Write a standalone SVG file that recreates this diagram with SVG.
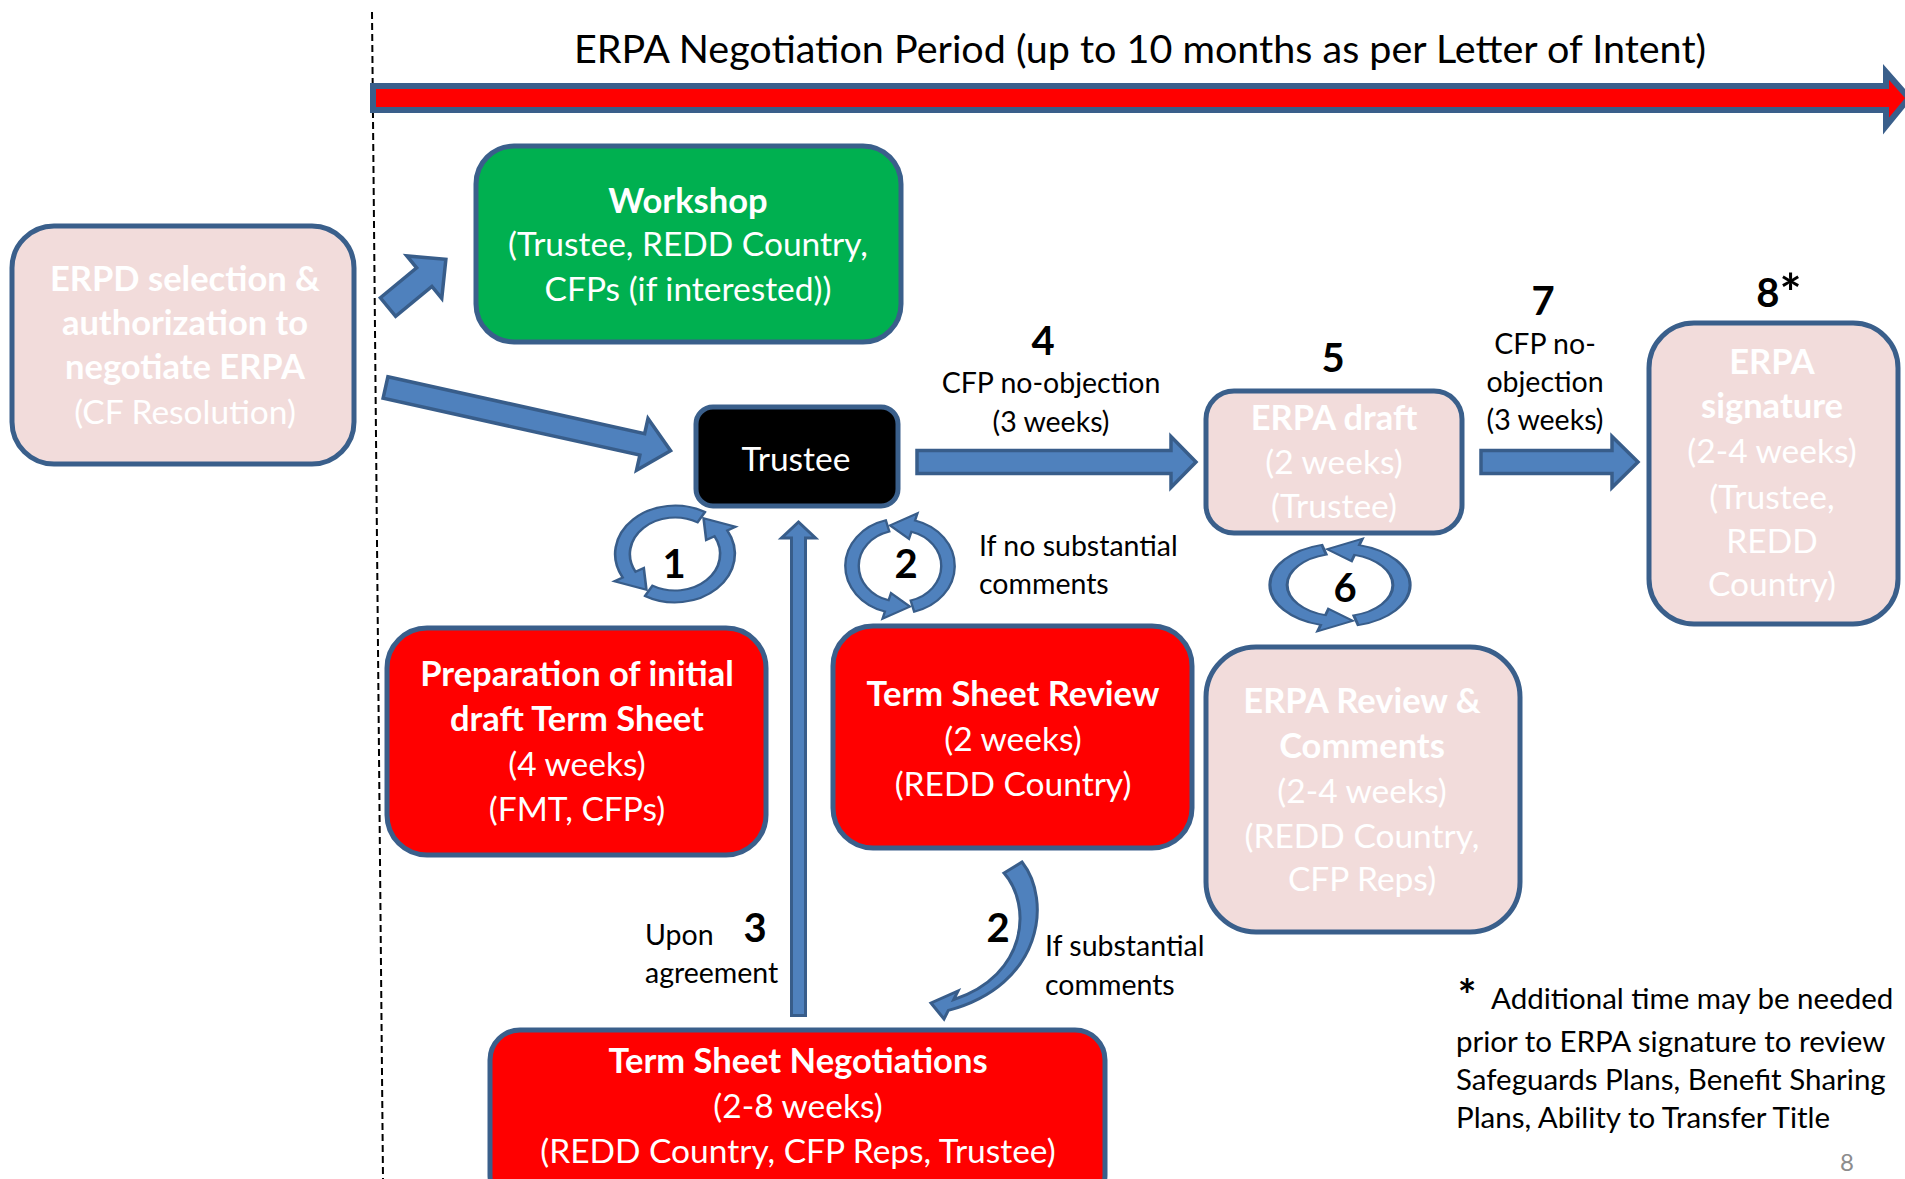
<svg xmlns="http://www.w3.org/2000/svg" xmlns:xlink="http://www.w3.org/1999/xlink" width="1905" height="1179" viewBox="0 0 1905 1179">
<style>
text{font-family:Lato,"Open Sans","Liberation Sans",sans-serif}
.box{stroke:#3a5f8b;stroke-width:5}
.pink{fill:#f2dcdb}
.red{fill:#ff0000}
.green{fill:#00b050}
.blk{fill:#000000}
.bt{fill:#ffffff;font-size:33.5px;text-anchor:middle}
.b{font-weight:bold;font-size:34.5px}
.lbl{fill:#000000;font-size:28.5px}
.fn{fill:#000000;font-size:29.5px}
.mid{text-anchor:middle}
.num{fill:#000000;font-size:40px;font-weight:bold;text-anchor:middle}
.ba{fill:#4f81bd;stroke:#385d8a;stroke-width:3.5;stroke-linejoin:miter}
.cy{fill:#4f81bd;stroke:#385d8a;stroke-width:2.5}
</style>
<defs>
<path id="arcA" d="M -14.75 -55.06 A 57 57 0 0 0 -15.71 54.79 L -18.19 63.44 L 10.40 48.91 L -9.37 32.68 L -11.85 41.33 A 43 43 0 0 1 -11.13 -41.53 Z"/>
<g id="cyc"><use xlink:href="#arcA" href="#arcA"/><use xlink:href="#arcA" href="#arcA" transform="rotate(180)"/></g>
</defs>
<rect width="1905" height="1179" fill="#ffffff"/>

<g id="timeline">
<line x1="372" y1="12" x2="383" y2="1179" stroke="#000" stroke-width="2" stroke-dasharray="7 4"/>
<text x="1140" y="63" class="mid" style="font-size:39.5px;fill:#000">ERPA Negotiation Period (up to 10 months as per Letter of Intent)</text>
<polygon points="373,86 1886,86 1886,72 1909,98 1886,126 1886,110 373,110" fill="#ff0000" stroke="#3a5f8b" stroke-width="6"/>
</g>

<g id="connectors">
<polygon class="ba" transform="translate(388,307) rotate(-39.5)" points="0,-12 47,-12 47,-27.5 75,0 47,27.5 47,12 0,12"/>
<polygon class="ba" transform="translate(385.5,387.5) rotate(12.5)" points="0,-11 263,-11 263,-26.5 292,0 263,26.5 263,11 0,11"/>
<polygon class="ba" points="917,450.5 1171,450.5 1171,436.5 1196,462 1171,487.5 1171,473.5 917,473.5"/>
<polygon class="ba" points="1481,450.5 1612,450.5 1612,436.5 1638,462 1612,487.5 1612,473.5 1481,473.5"/>
<polygon class="ba" style="stroke-width:3" points="791.5,1015.5 791.5,538 781.5,538 798.5,522 815.5,538 805.5,538 805.5,1015.5"/>
<path class="ba" style="stroke-width:3" d="M 1004 873 C 1032 905 1028 975 953.7 999.6 L 958 991 L 931 1003 L 944 1019 L 948.3 1010.4 C 1043 985 1052 900 1022 862 Z"/>
<use class="cy" xlink:href="#cyc" href="#cyc" transform="translate(675,554) scale(1.05,0.85) rotate(45)"/>
<use class="cy" xlink:href="#cyc" href="#cyc" transform="translate(900,566) scale(0.96,0.83)"/>
<use class="cy" xlink:href="#cyc" href="#cyc" transform="translate(1340,585) scale(1.23,0.73)"/>
</g>

<g id="labels">
<text x="674" y="578" class="num">1</text>
<text x="906" y="578" class="num">2</text>
<text x="979" y="556" class="lbl">If no substantial</text>
<text x="979" y="594" class="lbl">comments</text>
<text x="755" y="942" class="num">3</text>
<text x="645" y="945" class="lbl">Upon</text>
<text x="645" y="983" class="lbl">agreement</text>
<text x="998" y="942" class="num">2</text>
<text x="1045" y="956" class="lbl">If substantial</text>
<text x="1045" y="995" class="lbl">comments</text>
<text x="1043" y="355" class="num">4</text>
<text x="1051" y="393" class="lbl mid">CFP no-objection</text>
<text x="1051" y="432" class="lbl mid">(3 weeks)</text>
<text x="1333" y="372" class="num">5</text>
<text x="1345" y="602" class="num">6</text>
<text x="1543" y="315" class="num">7</text>
<text x="1545" y="354" class="lbl mid">CFP no-</text>
<text x="1545" y="392" class="lbl mid">objection</text>
<text x="1545" y="430" class="lbl mid">(3 weeks)</text>
<text x="1779" y="307" class="num">8<tspan dy="5" style="font-size:52px">*</tspan></text>
</g>

<g id="n-erpd">
<rect class="box pink" x="12" y="226" width="342" height="238" rx="42"/>
<text class="bt b" x="185" y="291">ERPD selection &amp;</text>
<text class="bt b" x="185" y="335">authorization to</text>
<text class="bt b" x="185" y="379">negotiate ERPA</text>
<text class="bt" x="185" y="424">(CF Resolution)</text>
</g>

<g id="n-workshop">
<rect class="box green" x="476" y="146" width="425" height="196" rx="38"/>
<text class="bt b" x="688" y="213">Workshop</text>
<text class="bt" x="688" y="256">(Trustee, REDD Country,</text>
<text class="bt" x="688" y="301">CFPs (if interested))</text>
</g>

<g id="n-trustee">
<rect class="box blk" x="696" y="407" width="202" height="99" rx="17"/>
<text class="bt" x="796" y="471">Trustee</text>
</g>

<g id="n-prep">
<rect class="box red" x="387" y="628" width="379" height="227" rx="40"/>
<text class="bt b" x="577" y="686">Preparation of initial</text>
<text class="bt b" x="577" y="731">draft Term Sheet</text>
<text class="bt" x="577" y="776">(4 weeks)</text>
<text class="bt" x="577" y="821">(FMT, CFPs)</text>
</g>

<g id="n-review">
<rect class="box red" x="833" y="626" width="359" height="222" rx="40"/>
<text class="bt b" x="1013" y="706">Term Sheet Review</text>
<text class="bt" x="1013" y="751">(2 weeks)</text>
<text class="bt" x="1013" y="796">(REDD Country)</text>
</g>

<g id="n-negotiations">
<rect class="box red" x="490" y="1030" width="615" height="175" rx="30"/>
<text class="bt b" x="798" y="1073">Term Sheet Negotiations</text>
<text class="bt" x="798" y="1118">(2-8 weeks)</text>
<text class="bt" x="798" y="1163">(REDD Country, CFP Reps, Trustee)</text>
</g>

<g id="n-draft">
<rect class="box pink" x="1206" y="391" width="256" height="142" rx="28"/>
<text class="bt b" x="1334" y="430">ERPA draft</text>
<text class="bt" x="1334" y="474">(2 weeks)</text>
<text class="bt" x="1334" y="518">(Trustee)</text>
</g>

<g id="n-erpareview">
<rect class="box pink" x="1206" y="647" width="314" height="285" rx="50"/>
<text class="bt b" x="1362" y="713">ERPA Review &amp;</text>
<text class="bt b" x="1362" y="758">Comments</text>
<text class="bt" x="1362" y="803">(2-4 weeks)</text>
<text class="bt" x="1362" y="848">(REDD Country,</text>
<text class="bt" x="1362" y="891">CFP Reps)</text>
</g>

<g id="n-signature">
<rect class="box pink" x="1649" y="323" width="249" height="301" rx="45"/>
<text class="bt b" x="1772" y="374">ERPA</text>
<text class="bt b" x="1772" y="418">signature</text>
<text class="bt" x="1772" y="463">(2-4 weeks)</text>
<text class="bt" x="1772" y="509">(Trustee,</text>
<text class="bt" x="1772" y="553">REDD</text>
<text class="bt" x="1772" y="596">Country)</text>
</g>

<g id="footnote">
<text x="1467" y="1011" class="mid" style="font-size:44px;font-weight:bold;fill:#000">*</text>
<text x="1491" y="1009" class="fn">Additional time may be needed</text>
<text x="1456" y="1052" class="fn">prior to ERPA signature to review</text>
<text x="1456" y="1090" class="fn">Safeguards Plans, Benefit Sharing</text>
<text x="1456" y="1128" class="fn">Plans, Ability to Transfer Title</text>
<text x="1847" y="1171" class="mid" style="font-size:24px;fill:#8c8c8c">8</text>
</g>
</svg>
